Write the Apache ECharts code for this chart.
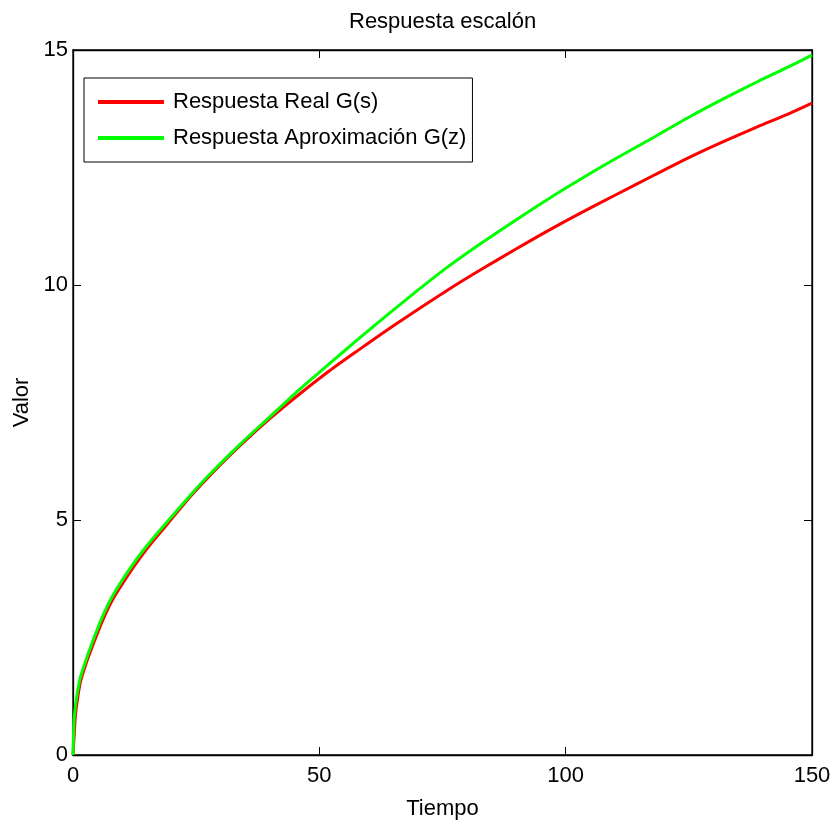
<!DOCTYPE html>
<html>
<head>
<meta charset="utf-8">
<script src="https://cdn.jsdelivr.net/npm/echarts@6/dist/echarts.min.js"></script>
<style>
html,body{margin:0;padding:0;background:#fff;}
#chart{width:836px;height:825px;}
</style>
</head>
<body>
<div id="chart"></div>
<script>
const titleText = 'Respuesta escalón';
const xName = 'Tiempo';
const yName = 'Valor';
const seriesNames = ['Respuesta Real G(s)', 'Respuesta Aproximación G(z)'];
const tiempo = [0, 0.2, 0.5, 1, 1.5, 2.5, 4, 6, 8, 11, 13.5, 16, 20, 24, 28, 34, 40, 46, 52, 58, 64, 70, 76, 83, 90, 96, 103, 110, 118, 125, 132, 139, 145, 150];
const real = [0, 0.35, 0.85, 1.25, 1.55, 1.9, 2.33, 2.86, 3.3, 3.8, 4.18, 4.52, 5.02, 5.52, 5.97, 6.59, 7.16, 7.68, 8.17, 8.62, 9.06, 9.48, 9.89, 10.34, 10.77, 11.13, 11.53, 11.91, 12.34, 12.71, 13.05, 13.37, 13.63, 13.87];
const aprox = [0, 0.7, 1.05, 1.4, 1.65, 1.98, 2.42, 2.95, 3.38, 3.88, 4.25, 4.58, 5.07, 5.55, 6.0, 6.62, 7.2, 7.78, 8.32, 8.86, 9.38, 9.89, 10.38, 10.9, 11.39, 11.8, 12.25, 12.68, 13.15, 13.57, 13.96, 14.33, 14.63, 14.89];
const xTicks = [0, 150, 50];
const yTicks = [0, 15, 5];

const font = 'Liberation Sans, Arial, sans-serif';
const chart = echarts.init(document.getElementById('chart'), null, {renderer: 'canvas'});
const pair = (xs, ys) => xs.map((x, i) => [x, ys[i]]);
const axisCommon = {
  type: 'value',
  axisLine: {show: true, onZero: false, lineStyle: {color: '#000', width: 1.3}},
  axisTick: {show: true, inside: true, length: 8, lineStyle: {color: '#000', width: 1}},
  splitLine: {show: false}
};
chart.setOption({
  animation: false,
  backgroundColor: '#fff',
  title: {
    text: titleText, left: 344, top: 6,
    textStyle: {fontFamily: font, fontSize: 22, fontWeight: 'normal', color: '#000'}
  },
  grid: {left: 73, right: 24, top: 50, bottom: 70, show: true, borderColor: '#000', borderWidth: 1.3},
  legend: {
    orient: 'vertical', left: 84, top: 78,
    data: seriesNames,
    icon: 'rect', itemWidth: 66, itemHeight: 4, itemGap: 14,
    padding: [13, 6, 13, 14],
    borderColor: '#000', borderWidth: 1, backgroundColor: '#fff',
    textStyle: {fontFamily: font, fontSize: 22, color: '#000', padding: [0, 0, 0, 4]}
  },
  xAxis: [
    Object.assign({}, axisCommon, {
      position: 'bottom', min: xTicks[0], max: xTicks[1], interval: xTicks[2],
      name: xName, nameLocation: 'middle', nameGap: 43,
      nameTextStyle: {fontFamily: font, fontSize: 22, color: '#000'},
      axisLabel: {fontFamily: font, fontSize: 22, color: '#000', margin: 10}
    }),
    Object.assign({}, axisCommon, {
      position: 'top', min: xTicks[0], max: xTicks[1], interval: xTicks[2],
      axisLabel: {show: false}
    })
  ],
  yAxis: [
    Object.assign({}, axisCommon, {
      position: 'left', min: yTicks[0], max: yTicks[1], interval: yTicks[2],
      name: yName, nameLocation: 'middle', nameGap: 40,
      nameTextStyle: {fontFamily: font, fontSize: 22, color: '#000'},
      axisLabel: {fontFamily: font, fontSize: 22, color: '#000', margin: 5}
    }),
    Object.assign({}, axisCommon, {
      position: 'right', min: yTicks[0], max: yTicks[1], interval: yTicks[2],
      axisLabel: {show: false}
    })
  ],
  series: [
    {
      name: seriesNames[0], type: 'line', data: pair(tiempo, real),
      showSymbol: false, symbol: 'none', smooth: 0.25,
      lineStyle: {color: '#ff0000', width: 3}, itemStyle: {color: '#ff0000'}, z: 2
    },
    {
      name: seriesNames[1], type: 'line', data: pair(tiempo, aprox),
      showSymbol: false, symbol: 'none', smooth: 0.25,
      lineStyle: {color: '#00ff00', width: 3}, itemStyle: {color: '#00ff00'}, z: 3
    }
  ]
});
</script>
</body>
</html>
